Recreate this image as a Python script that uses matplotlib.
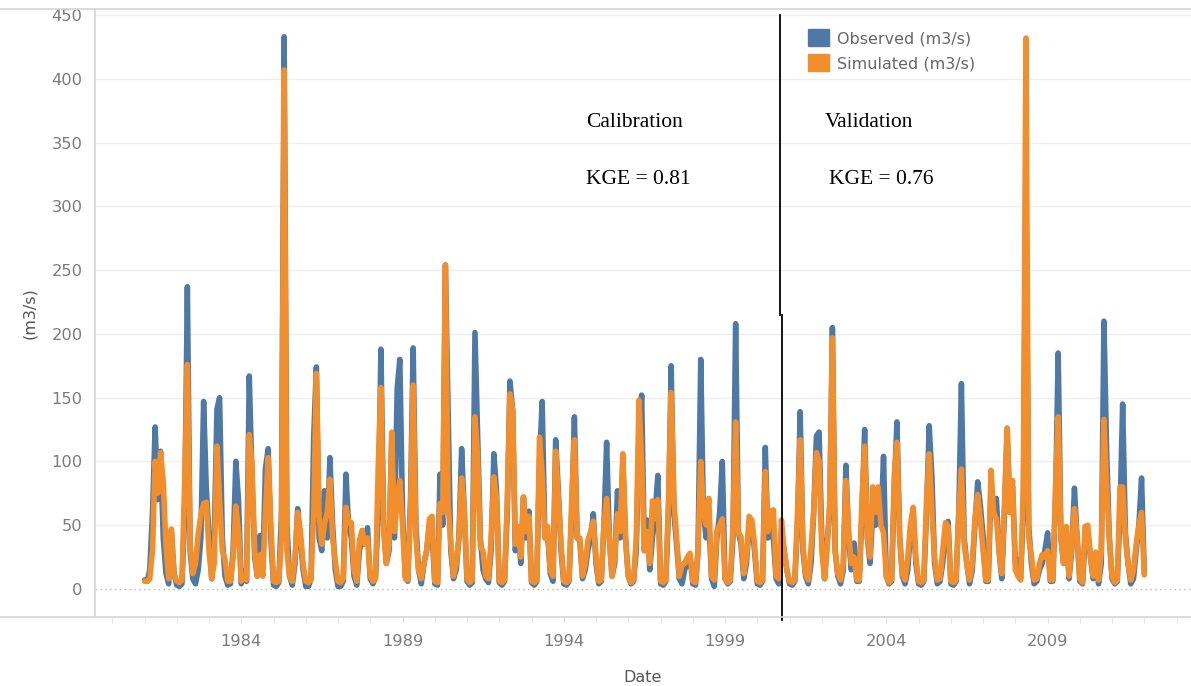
import pandas as pd
import matplotlib.pyplot as plt
from matplotlib.patches import Patch
from matplotlib.lines import Line2D

# Monthly flows, Jan 1981 .. Jan 2012 (one row per year)
observed = [
    7, 6, 15, 60, 127, 70, 108, 40, 12, 4, 45, 12,       # 1981
    3, 2, 4, 60, 237, 30, 8, 4, 15, 40, 147, 80,         # 1982
    42, 8, 38, 141, 150, 40, 10, 3, 4, 30, 100, 70,      # 1983
    4, 14, 6, 167, 90, 25, 10, 42, 15, 94, 110, 40,      # 1984
    3, 2, 5, 60, 433, 51, 10, 3, 20, 63, 40, 15,         # 1985
    2, 2, 8, 120, 174, 40, 30, 77, 40, 103, 50, 15,      # 1986
    2, 2, 6, 90, 50, 40, 10, 3, 30, 40, 35, 48,          # 1987
    8, 4, 10, 60, 188, 50, 20, 30, 120, 40, 157, 180,    # 1988
    60, 10, 6, 70, 189, 51, 15, 4, 20, 30, 50, 45,       # 1989
    4, 3, 90, 50, 254, 138, 30, 8, 15, 40, 110, 60,      # 1990
    6, 3, 5, 201, 123, 40, 15, 8, 5, 30, 106, 77,        # 1991
    5, 3, 6, 60, 163, 140, 30, 49, 20, 72, 40, 61,       # 1992
    5, 3, 6, 100, 147, 40, 44, 12, 6, 117, 76, 30,       # 1993
    4, 3, 6, 60, 135, 40, 38, 8, 15, 30, 40, 59,         # 1994
    20, 4, 6, 50, 115, 40, 10, 20, 77, 40, 100, 40,      # 1995
    10, 4, 6, 30, 120, 152, 30, 54, 15, 40, 60, 89,      # 1996
    4, 3, 6, 60, 175, 60, 35, 8, 4, 15, 20, 25,          # 1997
    4, 3, 30, 180, 60, 40, 55, 8, 2, 40, 60, 100,        # 1998
    8, 4, 6, 40, 208, 45, 35, 8, 20, 50, 50, 30,         # 1999
    4, 3, 6, 111, 40, 59, 40, 8, 4, 40, 30, 15,          # 2000
    4, 3, 6, 50, 139, 30, 10, 4, 20, 60, 120, 123,       # 2001
    40, 8, 36, 60, 205, 30, 10, 4, 15, 97, 40, 15,       # 2002
    36, 6, 6, 60, 125, 40, 20, 60, 50, 70, 50, 104,      # 2003
    10, 4, 6, 80, 131, 40, 10, 4, 15, 45, 60, 20,        # 2004
    4, 3, 6, 60, 128, 88, 20, 4, 6, 20, 45, 53,          # 2005
    4, 3, 6, 60, 161, 40, 20, 4, 15, 50, 84, 66,         # 2006
    42, 6, 6, 80, 60, 71, 30, 8, 60, 126, 60, 80,        # 2007
    22, 23, 8, 60, 317, 50, 20, 4, 6, 15, 20, 30,        # 2008
    44, 6, 6, 70, 185, 40, 20, 45, 8, 30, 79, 40,        # 2009
    6, 4, 40, 45, 25, 8, 25, 4, 20, 210, 107, 40,        # 2010
    8, 4, 6, 60, 145, 44, 20, 4, 8, 30, 50, 87,          # 2011
    12,                                                  # 2012
]
simulated = [
    6, 6, 8, 30, 100, 75, 107, 84, 33, 8, 47, 12,        # 1981
    6, 5, 7, 86, 176, 35, 12, 20, 43, 58, 67, 68,        # 1982
    30, 8, 20, 112, 70, 30, 23, 6, 6, 25, 65, 45,        # 1983
    6, 8, 7, 121, 98, 30, 10, 27, 10, 60, 103, 51,       # 1984
    6, 5, 6, 40, 407, 30, 10, 6, 25, 60, 45, 20,         # 1985
    6, 5, 7, 60, 169, 57, 35, 51, 60, 86, 40, 22,        # 1986
    6, 5, 8, 64, 52, 52, 15, 6, 38, 46, 35, 40,          # 1987
    10, 6, 8, 97, 158, 45, 20, 35, 123, 45, 70, 85,      # 1988
    50, 8, 7, 60, 160, 40, 15, 8, 21, 30, 55, 57,        # 1989
    6, 5, 67, 60, 254, 67, 36, 10, 20, 40, 87, 64,       # 1990
    8, 5, 7, 135, 104, 33, 30, 10, 8, 40, 88, 70,        # 1991
    6, 5, 7, 70, 153, 140, 35, 49, 25, 72, 45, 57,       # 1992
    6, 5, 7, 119, 90, 40, 49, 14, 10, 108, 70, 35,       # 1993
    6, 5, 7, 70, 117, 40, 40, 10, 20, 38, 45, 53,        # 1994
    25, 6, 7, 50, 71, 40, 10, 25, 59, 45, 106, 40,       # 1995
    10, 5, 7, 40, 148, 100, 30, 45, 20, 69, 55, 70,      # 1996
    6, 5, 7, 70, 154, 70, 41, 10, 19, 20, 25, 28,        # 1997
    6, 5, 30, 100, 60, 50, 71, 10, 7, 46, 50, 55,        # 1998
    8, 5, 7, 50, 131, 44, 41, 12, 25, 57, 54, 35,        # 1999
    6, 5, 7, 92, 45, 61, 62, 10, 8, 54, 30, 15,          # 2000
    6, 5, 7, 60, 117, 35, 12, 7, 32, 60, 107, 100,       # 2001
    30, 8, 30, 70, 197, 30, 12, 7, 20, 85, 45, 20,       # 2002
    25, 7, 7, 70, 112, 40, 25, 80, 60, 80, 50, 44,       # 2003
    10, 5, 7, 90, 115, 40, 12, 7, 25, 51, 64, 25,        # 2004
    6, 5, 7, 70, 106, 60, 25, 7, 8, 30, 52, 49,          # 2005
    6, 5, 7, 60, 94, 35, 20, 7, 20, 55, 74, 55,          # 2006
    30, 7, 7, 93, 60, 55, 30, 12, 68, 126, 60, 85,       # 2007
    15, 10, 7, 80, 432, 40, 26, 7, 8, 20, 27, 25,        # 2008
    30, 7, 7, 80, 135, 40, 20, 49, 10, 35, 63, 40,       # 2009
    8, 5, 49, 50, 25, 10, 29, 7, 30, 133, 80, 40,        # 2010
    10, 5, 7, 80, 80, 40, 20, 7, 15, 35, 50, 60,         # 2011
    11,                                                  # 2012
]
dates = pd.date_range('1981-01-01', periods=len(observed), freq='MS')

tick_years = [1984, 1989, 1994, 1999, 2004, 2009]
y_ticks = [0, 50, 100, 150, 200, 250, 300, 350, 400, 450]
split_date = pd.Timestamp('2000-09-17')

blue = '#4e79a7'
orange = '#f28e2b'
grey_txt = '#7b7b7b'
frame = '#d6d6d6'

plt.rcParams['font.family'] = ['DejaVu Sans']

fig = plt.figure(figsize=(11.91, 6.86), dpi=100)
ax = fig.add_axes([95 / 1191, 1 - 617 / 686, 1 - 95 / 1191, (617 - 10) / 686])

ax.plot(dates, observed, color=blue, lw=4.0, solid_joinstyle='round', solid_capstyle='round', zorder=3)
ax.plot(dates, simulated, color=orange, lw=4.0, solid_joinstyle='round', solid_capstyle='round', zorder=4)

ax.set_xlim(pd.Timestamp('1979-06-20'), pd.Timestamp('2013-06-13'))
ax.set_ylim(-22, 454)

# grid and zero line
for v in y_ticks[1:]:
    ax.axhline(v, color='#efefef', lw=1, zorder=1)
ax.axhline(0, color='#b5b5b5', lw=1, ls=(0, (1, 2.5)), zorder=2)

ax.set_yticks(y_ticks)
ax.set_xticks([pd.Timestamp(f'{y}-01-01') for y in tick_years])
ax.set_xticklabels([str(y) for y in tick_years])
ax.set_xticks([pd.Timestamp(f'{y}-01-01') for y in range(1980, 2014)], minor=True)
ax.tick_params(axis='y', length=0, pad=9, labelsize=11.7, labelcolor=grey_txt)
ax.tick_params(axis='x', which='both', length=4, color='#e2e2e2', pad=8, labelsize=11.7, labelcolor=grey_txt)
ax.set_ylabel('(m3/s)', fontsize=11.5, color='#555555', labelpad=10)
ax.set_xlabel('Date', fontsize=11.5, color='#555555', labelpad=15)
for s in ax.spines.values():
    s.set_visible(False)

# frame lines across the whole sheet
fig.add_artist(Line2D([0, 1], [1 - 617 / 686] * 2, color=frame, lw=1.2))
fig.add_artist(Line2D([0, 1], [1 - 9 / 686] * 2, color=frame, lw=1.2))
fig.add_artist(Line2D([95 / 1191] * 2, [1 - 617 / 686, 1 - 9 / 686], color=frame, lw=1.2))

# calibration / validation split
ax.axvline(split_date, ymin=0.4975, ymax=0.992, color='black', lw=1.3, zorder=5, clip_on=False)
ax.axvline(split_date + pd.Timedelta(days=21), ymin=-0.005, ymax=0.4975, color='black', lw=1.3,
           zorder=5, clip_on=False)

serif = dict(family='Liberation Serif', fontsize=15.5, color='black', va='center')
ax.text(0.448, 0.814, 'Calibration', transform=ax.transAxes, **serif)
ax.text(0.448, 0.720, 'KGE = 0.81', transform=ax.transAxes, **serif)
ax.text(0.666, 0.814, 'Validation', transform=ax.transAxes, **serif)
ax.text(0.670, 0.720, 'KGE = 0.76', transform=ax.transAxes, **serif)

handles = [Patch(color=blue, label='Observed (m3/s)'), Patch(color=orange, label='Simulated (m3/s)')]
leg = ax.legend(handles=handles, loc='upper left', bbox_to_anchor=(0.6505, 0.968), frameon=False,
                fontsize=11.5, handlelength=1.3, handleheight=1.25, handletextpad=0.5,
                labelspacing=0.5, borderpad=0, borderaxespad=0)
for t in leg.get_texts():
    t.set_color('#666666')

fig.savefig('out.png', dpi=100)
